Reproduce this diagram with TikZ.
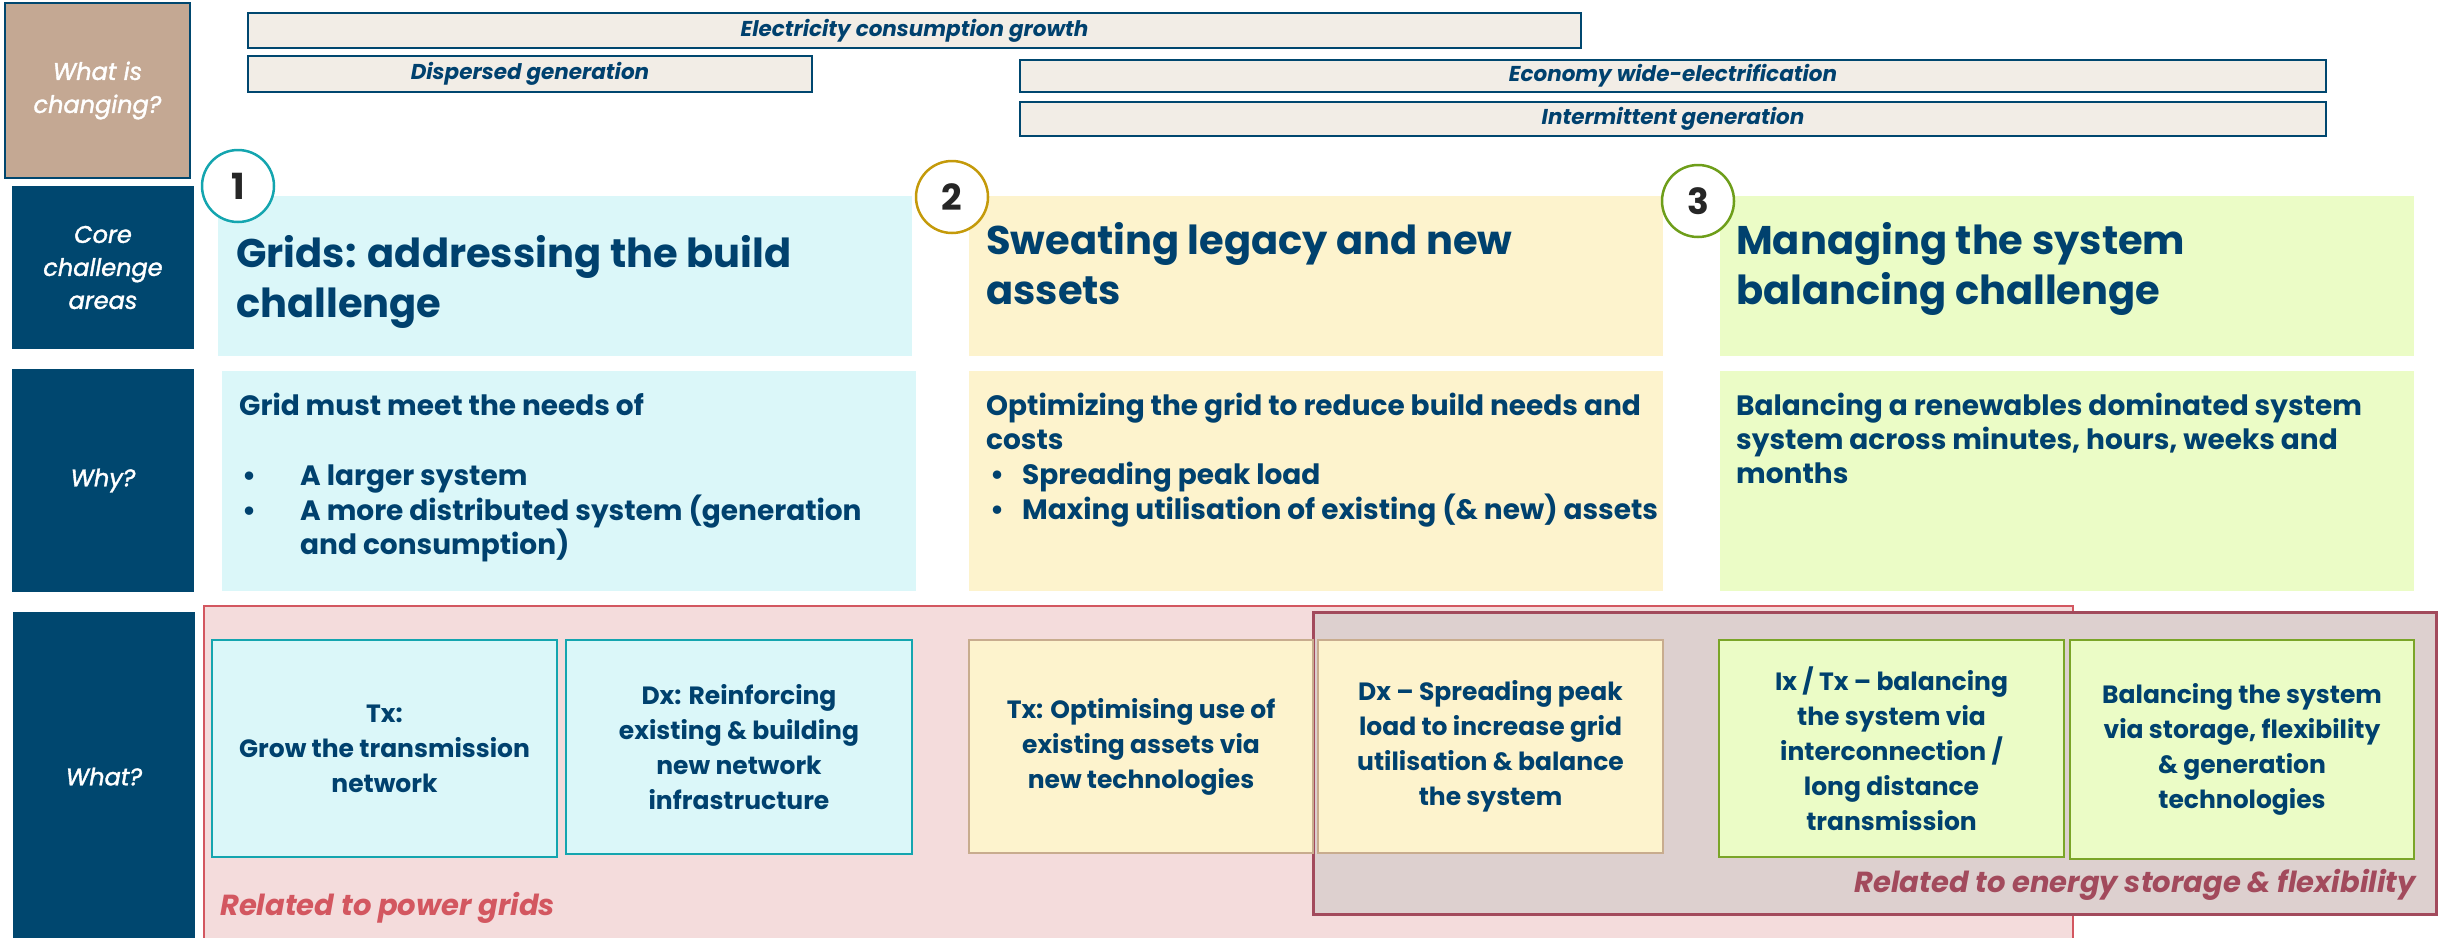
\documentclass[tikz,border=0pt]{standalone}
\usepackage{fontspec}
\setmainfont{Poppins}
\newfontfamily\sidefont{Poppins}[UprightFeatures={FakeBold=1.5},ItalicFeatures={FakeBold=1.5}]
\definecolor{navy}{HTML}{00476F}
\definecolor{ink}{HTML}{00416E}
\definecolor{tanfill}{HTML}{C4A893}
\definecolor{barfill}{HTML}{F2EDE6}
\definecolor{cyanfill}{HTML}{DBF7F9}
\definecolor{cyanline}{HTML}{14A5AF}
\definecolor{yelfill}{HTML}{FDF3CD}
\definecolor{yelline}{HTML}{C8AC8E}
\definecolor{grnfill}{HTML}{EBFCC6}
\definecolor{grnline}{HTML}{7AA528}
\definecolor{pinkfill}{HTML}{F4DCDC}
\definecolor{pinkline}{HTML}{D35760}
\definecolor{mauvefill}{HTML}{DDD0CF}
\definecolor{mauveline}{HTML}{A24A5C}
\definecolor{goldline}{HTML}{C49A0A}
\definecolor{oliveline}{HTML}{6E9E1A}
\newcommand\fsz[2]{\fontsize{#1}{#2}\selectfont}
\begin{document}
\begin{tikzpicture}[x=1pt,y=-1pt,
  sidebox/.style={rectangle, fill=navy, draw=navy, line width=2pt, inner sep=0,
    text=white, align=center, font=\sidefont\fsz{24}{33}\itshape},
  trendbar/.style={rectangle, fill=barfill, draw=navy, line width=2.5pt, inner sep=0,
    text=ink, font=\fsz{21.5}{24}\bfseries\itshape},
  panel/.style={rectangle, inner sep=0, draw=none},
  title/.style={anchor=base west, inner sep=0, text=ink, font=\fsz{40}{50}\bfseries},
  body/.style={anchor=base west, inner sep=0, text=ink, font=\fsz{28}{35}\bfseries},
  item/.style={rectangle, inner sep=0, line width=2.5pt, text=ink, align=center,
    font=\fsz{25}{35}\bfseries},
  badge/.style={circle, fill=white, line width=2.5pt, minimum size=72, inner sep=0,
    text=black!85, font=\fsz{36}{40}\bfseries},
  zone/.style={rectangle, inner sep=0},
  zonetext/.style={inner sep=0, font=\fsz{29}{34}\bfseries\itshape}
]
\useasboundingbox (0,0) rectangle (2438,937);

% left-hand row labels
\node[sidebox, fill=tanfill, minimum width=185, minimum height=175] (chg) at (97.5,90.5) {What is\\changing?};
\node[sidebox, minimum width=180, minimum height=161] (core) at (103,267.5) {Core\\challenge\\areas};
\node[sidebox, minimum width=180, minimum height=221] (why) at (103,480.5) {Why?};
\node[sidebox, minimum width=180, minimum height=327] (what) at (104,776.5) {What?};

% trend bars
\node[trendbar, minimum width=1333, minimum height=35] (elec) at (914.5,30.5) {Electricity consumption growth};
\node[trendbar, minimum width=564, minimum height=36] (disp) at (530,74) {Dispersed generation};
\node[trendbar, minimum width=1306, minimum height=32] (econ) at (1673,76) {Economy wide-electrification};
\node[trendbar, minimum width=1306, minimum height=34] (inter) at (1673,119) {Intermittent generation};

% challenge headers
\node[panel, fill=cyanfill, minimum width=694, minimum height=160] (h1) at (565,276) {};
\node[panel, fill=yelfill, minimum width=694, minimum height=160] (h2) at (1316,276) {};
\node[panel, fill=grnfill, minimum width=694, minimum height=160] (h3) at (2067,276) {};
\node[title] (h1a) at (236,267) {Grids: addressing the build};
\node[title] (h1b) at (236,317) {challenge};
\node[title] (h2a) at (986,254) {Sweating legacy and new};
\node[title] (h2b) at (986,304) {assets};
\node[title] (h3a) at (1736,254) {Managing the system};
\node[title] (h3b) at (1736,304) {balancing challenge};

\node[badge, draw=cyanline] (n1) at (238,186) {1};
\node[badge, draw=goldline] (n2) at (952,197) {2};
\node[badge, draw=oliveline] (n3) at (1698,201) {3};

% reasons
\node[panel, fill=cyanfill, minimum width=694, minimum height=220] (w1) at (569,481) {};
\node[panel, fill=yelfill, minimum width=694, minimum height=220] (w2) at (1316,481) {};
\node[panel, fill=grnfill, minimum width=694, minimum height=220] (w3) at (2067,481) {};

\node[body] (w1a) at (239,415) {Grid must meet the needs of};
\node[body] (w1b) at (242,485) {•};
\node[body] (w1c) at (300,485) {A larger system};
\node[body] (w1d) at (242,520) {•};
\node[body] (w1e) at (300,520) {A more distributed system (generation};
\node[body] (w1f) at (300,554) {and consumption)};

\node[body] (w2a) at (986,415) {Optimizing the grid to reduce build needs and};
\node[body] (w2b) at (986,449) {costs};
\node[body] (w2c) at (990,484) {•};
\node[body] (w2d) at (1022,484) {Spreading peak load};
\node[body] (w2e) at (990,519) {•};
\node[body] (w2f) at (1022,519) {Maxing utilisation of existing (\& new) assets};

\node[body] (w3a) at (1736,415) {Balancing a renewables dominated system};
\node[body] (w3b) at (1736,449) {system across minutes, hours, weeks and};
\node[body] (w3c) at (1736,483) {months};

% grouping zones
\node[zone, fill=pinkfill, draw=pinkline, line width=2pt, minimum width=1869, minimum height=339] (grids) at (1138.5,775.5) {};
\node[zone, fill=mauvefill, draw=mauveline, line width=3pt, minimum width=1123, minimum height=302] (store) at (1874.5,763) {};

% actions
\node[item, fill=cyanfill, draw=cyanline, minimum width=345, minimum height=217] (a1) at (384.5,748.5) {Tx:\\Grow the transmission\\network};
\node[item, fill=cyanfill, draw=cyanline, minimum width=346, minimum height=214] (a2) at (739,747) {Dx: Reinforcing\\existing \& building\\new network\\infrastructure};
\node[item, fill=yelfill, draw=yelline, minimum width=344, minimum height=213] (a3) at (1141,746.5) {Tx: Optimising use of\\existing assets via\\new technologies};
\node[item, fill=yelfill, draw=yelline, minimum width=345, minimum height=213] (a4) at (1490.5,746.5) {Dx – Spreading peak\\load to increase grid\\utilisation \& balance\\the system};
\node[item, fill=grnfill, draw=grnline, minimum width=345, minimum height=217] (a5) at (1891.5,748.5) {Ix / Tx – balancing\\the system via\\interconnection /\\long distance\\transmission};
\node[item, fill=grnfill, draw=grnline, minimum width=344, minimum height=219] (a6) at (2242,749.5) {Balancing the system\\via storage, flexibility\\\& generation\\technologies};

\node[zonetext, anchor=base west, text=pinkline] (gridslbl) at (220,915) {Related to power grids};
\node[zonetext, anchor=base east, text=mauveline] (storelbl) at (2416,892) {Related to energy storage \& flexibility};
\end{tikzpicture}
\end{document}
